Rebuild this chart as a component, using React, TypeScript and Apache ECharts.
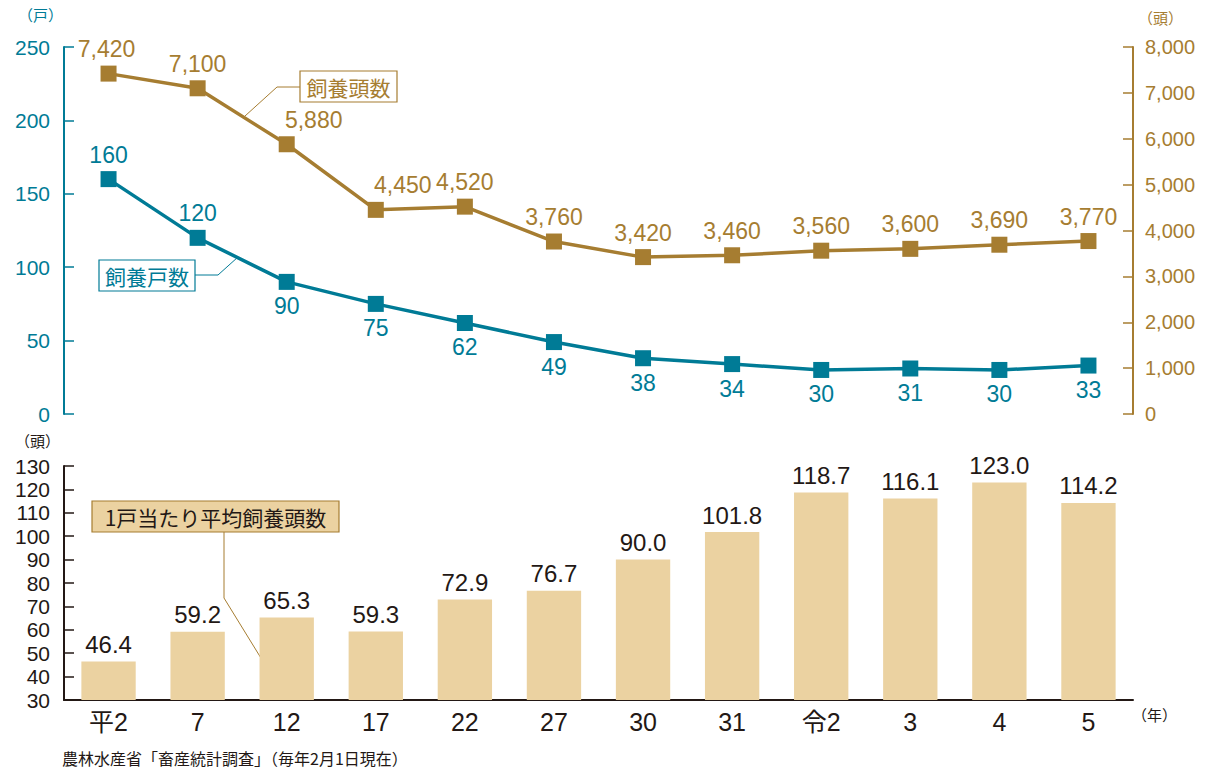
import React, { useEffect, useRef } from "react";
import * as echarts from "echarts";

const categories = ["平2", "7", "12", "17", "22", "27", "30", "31", "令2", "3", "4", "5"];
const households = [160, 120, 90, 75, 62, 49, 38, 34, 30, 31, 30, 33];
const householdLabelAbove = [true, true, false, false, false, false, false, false, false, false, false, false];
const heads = [7420, 7100, 5880, 4450, 4520, 3760, 3420, 3460, 3560, 3600, 3690, 3770];
const headsLabelShiftX = [-2, 0, 27, 27, 0, 0, 0, 0, 0, 0, 0, 0];
const perHousehold = [46.4, 59.2, 65.3, 59.3, 72.9, 76.7, 90.0, 101.8, 118.7, 116.1, 123.0, 114.2];

const TEAL = "#007b96";
const GOLD = "#a67d31";
const BAR = "#ebd2a1";
const DARK = "#231815";
const NUM_FONT = "'Liberation Sans', Arial, 'Noto Sans CJK JP', sans-serif";
const JP_FONT = "'Noto Sans CJK JP', 'Liberation Sans', sans-serif";

const fmt = (v: number) => v.toLocaleString("en-US");

export default function App() {
  const ref = useRef<HTMLDivElement>(null);
  useEffect(() => {
    if (!ref.current) return;
    const chart = echarts.init(ref.current, undefined, { renderer: "svg" });
    const option: any = {
      animation: false,
      backgroundColor: "#ffffff",
      textStyle: { fontFamily: NUM_FONT },
      grid: [
        { left: 64, right: 77, top: 47, bottom: 358 },
        { left: 64, right: 77, top: 466, bottom: 72 },
      ],
      xAxis: [
        {
          type: "category",
          gridIndex: 0,
          data: categories,
          boundaryGap: true,
          axisLine: { show: false },
          axisTick: { show: false },
          axisLabel: { show: false },
        },
        {
          type: "category",
          gridIndex: 1,
          data: categories,
          boundaryGap: true,
          axisLine: { lineStyle: { color: DARK, width: 2 } },
          axisTick: { inside: true, length: 6, lineStyle: { color: DARK, width: 1 } },
          axisLabel: { color: DARK, fontSize: 25, margin: 9, fontFamily: NUM_FONT },
        },
      ],
      yAxis: [
        {
          type: "value",
          gridIndex: 0,
          min: 0,
          max: 250,
          interval: 50,
          axisLine: { show: true, lineStyle: { color: TEAL, width: 2 } },
          axisTick: { show: true, inside: true, length: 10, lineStyle: { color: TEAL, width: 1.5 } },
          axisLabel: { color: TEAL, fontSize: 21, margin: 14 },
          splitLine: { show: false },
        },
        {
          type: "value",
          gridIndex: 0,
          position: "right",
          min: 0,
          max: 8000,
          interval: 1000,
          axisLine: { show: true, lineStyle: { color: GOLD, width: 2 } },
          axisTick: { show: true, inside: true, length: 10, lineStyle: { color: GOLD, width: 1.5 } },
          axisLabel: { color: GOLD, fontSize: 20, margin: 12, formatter: (v: number) => fmt(v) },
          splitLine: { show: false },
        },
        {
          type: "value",
          gridIndex: 1,
          min: 30,
          max: 130,
          interval: 10,
          axisLine: { show: true, lineStyle: { color: DARK, width: 2 } },
          axisTick: { show: true, inside: true, length: 10, lineStyle: { color: DARK, width: 1.5 } },
          axisLabel: { color: DARK, fontSize: 21, margin: 14 },
          splitLine: { show: false },
        },
      ],
      series: [
        {
          name: "飼養頭数",
          type: "line",
          xAxisIndex: 0,
          yAxisIndex: 1,
          data: heads.map((v, i) => ({
            value: v,
            label: { offset: [headsLabelShiftX[i], 0] },
          })),
          symbol: "rect",
          symbolSize: 16,
          itemStyle: { color: GOLD },
          lineStyle: { color: GOLD, width: 3.5 },
          label: {
            show: true,
            position: "top",
            distance: 5,
            color: GOLD,
            fontSize: 23,
            formatter: (p: any) => fmt(p.value),
          },
        },
        {
          name: "飼養戸数",
          type: "line",
          xAxisIndex: 0,
          yAxisIndex: 0,
          data: households.map((v, i) => ({
            value: v,
            label: { position: householdLabelAbove[i] ? "top" : "bottom" },
          })),
          symbol: "rect",
          symbolSize: 16,
          itemStyle: { color: TEAL },
          lineStyle: { color: TEAL, width: 3.5 },
          label: {
            show: true,
            distance: 5,
            color: TEAL,
            fontSize: 23,
          },
        },
        {
          name: "1戸当たり平均飼養頭数",
          type: "bar",
          xAxisIndex: 1,
          yAxisIndex: 2,
          data: perHousehold,
          barWidth: "61%",
          clip: true,
          itemStyle: { color: BAR },
          label: {
            show: true,
            position: "top",
            distance: 5,
            color: DARK,
            fontSize: 24,
            formatter: (p: any) => Number(p.value).toFixed(1),
          },
        },
      ],
      graphic: [
        { type: "text", left: 18, top: 7, style: { text: "（戸）", fill: TEAL, fontSize: 15, fontFamily: JP_FONT } },
        { type: "text", left: 1138, top: 10, style: { text: "（頭）", fill: GOLD, fontSize: 15, fontFamily: JP_FONT } },
        { type: "text", left: 15, top: 433, style: { text: "（頭）", fill: DARK, fontSize: 15, fontFamily: JP_FONT } },
        { type: "text", left: 1132, top: 707, style: { text: "（年）", fill: DARK, fontSize: 15, fontFamily: JP_FONT } },
        {
          type: "text",
          left: 62,
          top: 750,
          style: { text: "農林水産省「畜産統計調査」（毎年2月1日現在）", fill: DARK, fontSize: 16, fontFamily: JP_FONT },
        },
        // 飼養頭数 legend
        { type: "polyline", shape: { points: [[300, 87], [277, 87], [245, 116]] }, style: { stroke: GOLD, lineWidth: 1, fill: null } },
        { type: "rect", shape: { x: 300, y: 71, width: 97, height: 31 }, style: { fill: "#ffffff", stroke: GOLD, lineWidth: 1.2 } },
        { type: "text", x: 348.5, y: 87, style: { text: "飼養頭数", fill: GOLD, fontSize: 21, fontFamily: JP_FONT, align: "center", verticalAlign: "middle" } },
        // 飼養戸数 legend
        { type: "polyline", shape: { points: [[195, 275], [218, 275], [238, 257]] }, style: { stroke: TEAL, lineWidth: 1, fill: null } },
        { type: "rect", shape: { x: 99, y: 260, width: 96, height: 31 }, style: { fill: "#ffffff", stroke: TEAL, lineWidth: 1.2 } },
        { type: "text", x: 147, y: 275.5, style: { text: "飼養戸数", fill: TEAL, fontSize: 21, fontFamily: JP_FONT, align: "center", verticalAlign: "middle" } },
        // bar legend
        { type: "polyline", shape: { points: [[224, 532], [224, 598], [264, 663]] }, style: { stroke: GOLD, lineWidth: 1, fill: null } },
        { type: "rect", shape: { x: 92, y: 501, width: 247, height: 31 }, style: { fill: BAR, stroke: GOLD, lineWidth: 1.2 } },
        { type: "text", x: 215.5, y: 516.5, style: { text: "1戸当たり平均飼養頭数", fill: DARK, fontSize: 21, fontFamily: JP_FONT, align: "center", verticalAlign: "middle" } },
      ],
    };
    chart.setOption(option);
    return () => chart.dispose();
  }, []);
  return <div ref={ref} style={{ position: "fixed", left: 0, top: 0, width: 1210, height: 772 }} />;
}
